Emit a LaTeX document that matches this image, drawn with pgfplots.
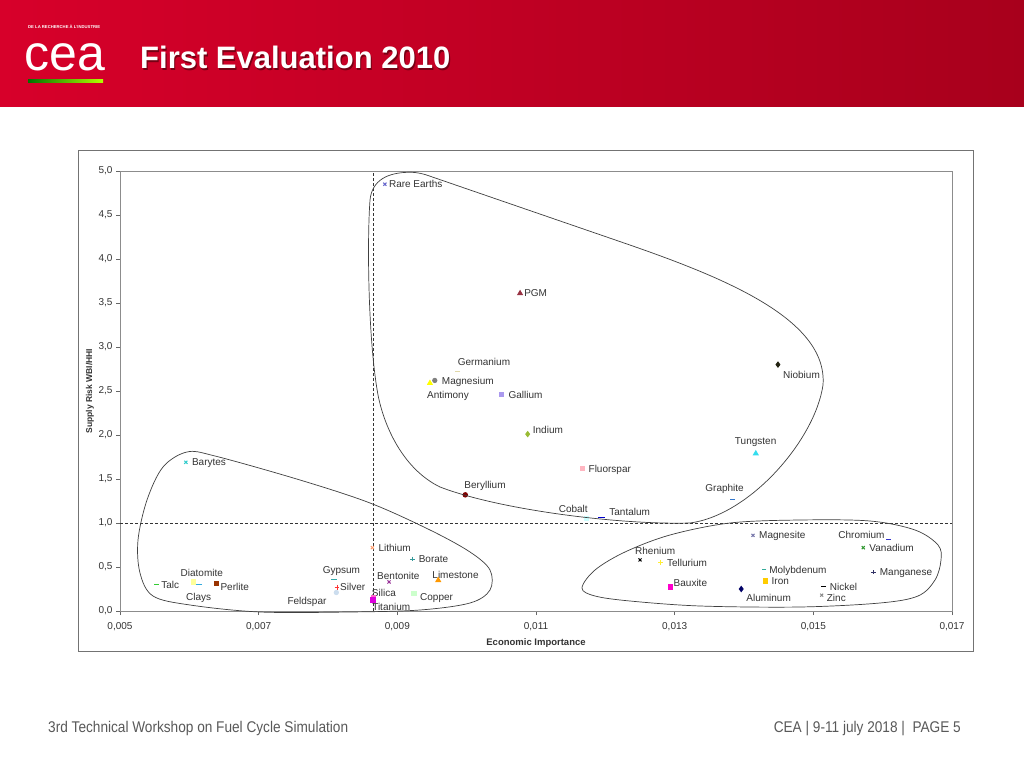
\documentclass[border=0pt]{standalone}
\usepackage{pgfplots}
\pgfplotsset{compat=1.18}
\usepackage{fontspec}
\setmainfont{Liberation Sans}
\usepackage{graphicx}

\definecolor{txt}{HTML}{333333}
\definecolor{hdrL}{HTML}{D7002A}
\definecolor{hdrR}{HTML}{A8001C}
\definecolor{cRE}{HTML}{6666CC}
\definecolor{cPGM}{HTML}{993344}
\definecolor{cGe}{HTML}{E0D8A8}
\definecolor{cMg}{HTML}{808080}
\definecolor{cSb}{HTML}{FFFF00}
\definecolor{cGa}{HTML}{AA99EE}
\definecolor{cIn}{HTML}{99BB33}
\definecolor{cFl}{HTML}{FFB6C1}
\definecolor{cBe}{HTML}{800000}
\definecolor{cCo}{HTML}{CCFFFF}
\definecolor{cTa}{HTML}{0000CC}
\definecolor{cNb}{HTML}{222211}
\definecolor{cW}{HTML}{33DDEE}
\definecolor{cGr}{HTML}{3377CC}
\definecolor{cBa}{HTML}{33CCCC}
\definecolor{cLi}{HTML}{FF9966}
\definecolor{cBo}{HTML}{339999}
\definecolor{cDi}{HTML}{FFFF99}
\definecolor{cTalc}{HTML}{33CC33}
\definecolor{cCl}{HTML}{33AADD}
\definecolor{cPe}{HTML}{993300}
\definecolor{cGy}{HTML}{33AAAA}
\definecolor{cAg}{HTML}{FF3333}
\definecolor{cFe}{HTML}{CCDDEE}
\definecolor{cBen}{HTML}{993399}
\definecolor{cSi}{HTML}{FF66CC}
\definecolor{cTi}{HTML}{DD00DD}
\definecolor{cLs}{HTML}{FF9900}
\definecolor{cCu}{HTML}{CCFFCC}
\definecolor{cRe}{HTML}{000000}
\definecolor{cTe}{HTML}{FFEE33}
\definecolor{cMgs}{HTML}{7777AA}
\definecolor{cCr}{HTML}{3333CC}
\definecolor{cV}{HTML}{339933}
\definecolor{cMo}{HTML}{33AA99}
\definecolor{cMn}{HTML}{333366}
\definecolor{cIr}{HTML}{FFCC00}
\definecolor{cBx}{HTML}{FF00CC}
\definecolor{cAl}{HTML}{000066}
\definecolor{cNi}{HTML}{000000}
\definecolor{cZn}{HTML}{888888}

\tikzset{lbl/.style={font=\fontsize{10}{12}\selectfont, text=txt, inner sep=0pt, text height=7.2pt, text depth=0pt, anchor=west}}

% x, y, mark, colour, mark size, label, dx, dy
\newcommand{\elem}[8]{%
  \addplot[only marks, mark=#3, color=#4, mark size=#5, mark options={solid, line width=1pt}] coordinates {(#1,#2)};
  \node[lbl, xshift=#7pt, yshift=#8pt] at (axis cs:#1,#2) {#6};
}

\begin{document}
\begin{tikzpicture}[x=1pt,y=1pt]
\fill[white] (0,0) rectangle (1024,768);
\shade[left color=hdrL, right color=hdrR] (0,661) rectangle (1024,768);
% logo
\node[white, font=\fontsize{4.2}{5}\selectfont\bfseries, anchor=west, inner sep=0pt] at (28,741) {DE LA RECHERCHE À L'INDUSTRIE};
\node[white, font=\fontsize{50}{50}\selectfont, anchor=base, inner sep=0pt] at (65,697) {cea};
\shade[left color=green!45!black, right color=yellow!70!green] (28,685) rectangle (103,688);
% title
\node[anchor=base west, inner sep=0pt, text=hdrR!70!black, font=\fontsize{31}{36}\selectfont\bfseries] at (141.2,697.8) {First Evaluation 2010};
\node[anchor=base west, inner sep=0pt, text=white, font=\fontsize{31}{36}\selectfont\bfseries] at (140,699) {First Evaluation 2010};
% footer
\node[anchor=base west, inner sep=0pt, text=black!65, font=\fontsize{15.5}{18}\selectfont] at (48,36) {\scalebox{0.88}[1]{3rd Technical Workshop on Fuel Cycle Simulation}};
\node[anchor=base east, inner sep=0pt, text=black!65, font=\fontsize{15.5}{18}\selectfont] at (961,36) {\scalebox{0.88}[1]{CEA | 9-11 july 2018 |\ \ PAGE 5}};
% chart frame
\draw[black!55, line width=1pt] (78,117) rectangle (973,617);

\begin{axis}[
  at={(120pt,157pt)}, anchor=south west,
  scale only axis, width=832pt, height=440pt,
  xmin=0.005, xmax=0.017, ymin=0, ymax=5,
  scaled x ticks=false, scaled y ticks=false,
  xtick={0.005,0.007,0.009,0.011,0.013,0.015,0.017},
  xticklabels={{0,005},{0,007},{0,009},{0,011},{0,013},{0,015},{0,017}},
  ytick={0,0.5,1,1.5,2,2.5,3,3.5,4,4.5,5},
  yticklabels={{0,0},{0,5},{1,0},{1,5},{2,0},{2,5},{3,0},{3,5},{4,0},{4,5},{5,0}},
  tick pos=left, tick align=outside, major tick length=4pt,
  tick style={black!60, thin},
  axis line style={black!45},
  ticklabel style={font=\fontsize{10}{12}\selectfont, text=txt},
  xticklabel style={yshift=-4pt},
  xlabel={Economic Importance},
  ylabel={Supply Risk WBI/HHI},
  xlabel style={font=\fontsize{9.5}{11}\selectfont\bfseries, text=txt, at={(axis description cs:0.5,0)}, anchor=center, yshift=-32pt},
  ylabel style={font=\fontsize{8.5}{10}\selectfont\bfseries, text=txt, at={(axis description cs:0,0.5)}, anchor=center, yshift=30pt},
  clip=false,
]
\addplot[black!80, dash pattern=on 3pt off 2pt, thin] coordinates {(0.00865,0) (0.00865,5)};
\addplot[black!80, dash pattern=on 3pt off 2pt, thin] coordinates {(0.005,1) (0.017,1)};

\elem{0.00882}{4.85}{x}{cRE}{2.2pt}{Rare Earths}{4}{0}
\elem{0.01077}{3.61}{triangle*}{cPGM}{2.6pt}{PGM}{4}{0}
\elem{0.00987}{2.72}{-}{cGe}{2.5pt}{Germanium}{0}{10}
\elem{0.00954}{2.62}{*}{cMg}{2.1pt}{Magnesium}{7}{0}
\elem{0.00947}{2.59}{triangle*}{cSb}{2.6pt}{Antimony}{-3}{-12}
\elem{0.01050}{2.46}{square*}{cGa}{2.1pt}{Gallium}{7}{0}
\elem{0.01088}{2.01}{diamond*}{cIn}{2.5pt}{Indium}{5}{4}
\elem{0.01167}{1.62}{square*}{cFl}{2.1pt}{Fluorspar}{6}{0}
\elem{0.00998}{1.32}{*}{cBe}{2.2pt}{Beryllium}{-1}{10}
\elem{0.01173}{1.05}{square*}{cCo}{2.1pt}{Cobalt}{-28}{10}
\elem{0.01194}{1.06}{-}{cTa}{3.5pt}{Tantalum}{8}{6}
\elem{0.01449}{2.80}{diamond*}{cNb}{2.5pt}{Niobium}{5}{-10}
\elem{0.01417}{1.79}{triangle*}{cW}{2.6pt}{Tungsten}{-21}{13}
\elem{0.01383}{1.27}{-}{cGr}{2.5pt}{Graphite}{-27}{11}
\elem{0.00595}{1.69}{x}{cBa}{2.2pt}{Barytes}{6}{0}
\elem{0.00864}{0.72}{x}{cLi}{2.2pt}{Lithium}{6}{0}
\elem{0.00922}{0.59}{+}{cBo}{2.4pt}{Borate}{6}{0}
\elem{0.00606}{0.33}{square*}{cDi}{2.2pt}{Diatomite}{-13}{9}
\elem{0.00552}{0.30}{-}{cTalc}{2.5pt}{Talc}{5}{0}
\elem{0.00614}{0.30}{-}{cCl}{3pt}{Clays}{-13}{-12}
\elem{0.00639}{0.31}{square*}{cPe}{2.2pt}{Perlite}{4}{-3}
\elem{0.00808}{0.36}{-}{cGy}{3pt}{Gypsum}{-11}{9}
\elem{0.00813}{0.27}{+}{cAg}{2.4pt}{Silver}{3}{0}
\elem{0.00812}{0.21}{*}{cFe}{2.1pt}{Feldspar}{-49}{-8}
\elem{0.00888}{0.33}{x}{cBen}{2.2pt}{Bentonite}{-12}{6}
\elem{0.00866}{0.15}{square*}{cSi}{2.2pt}{Silica}{-2}{5}
\elem{0.00865}{0.12}{square*}{cTi}{2.5pt}{Titanium}{-1}{-6}
\elem{0.00959}{0.35}{triangle*}{cLs}{2.6pt}{Limestone}{-6}{5}
\elem{0.00924}{0.20}{square*}{cCu}{2.4pt}{Copper}{6}{-3}
\elem{0.01250}{0.58}{x}{cRe}{2.1pt}{Rhenium}{-5}{9}
\elem{0.01280}{0.55}{+}{cTe}{2.6pt}{Tellurium}{6}{0}
\elem{0.01413}{0.86}{x}{cMgs}{2.1pt}{Magnesite}{6}{0}
\elem{0.01608}{0.81}{-}{cCr}{2.5pt}{Chromium}{-50}{5}
\elem{0.01572}{0.72}{x}{cV}{2.2pt}{Vanadium}{6}{0}
\elem{0.01429}{0.47}{-}{cMo}{2.3pt}{Molybdenum}{5}{0}
\elem{0.01587}{0.44}{+}{cMn}{2.2pt}{Manganese}{6}{0}
\elem{0.01431}{0.34}{square*}{cIr}{2.4pt}{Iron}{6}{0}
\elem{0.01294}{0.27}{square*}{cBx}{2.4pt}{Bauxite}{3}{4}
\elem{0.01396}{0.25}{diamond*}{cAl}{2.5pt}{Aluminum}{5}{-9}
\elem{0.01515}{0.28}{-}{cNi}{2.5pt}{Nickel}{6}{-1}
\elem{0.01512}{0.18}{x}{cZn}{2.1pt}{Zinc}{5}{-3}
\end{axis}

\begin{scope}[shift={(0,768)}, yscale=-1, black!75, line width=0.7pt]
\draw (430,176.2) -- (620,241.6)
  .. controls (720,276) and (828,318) .. (823,385)
  .. controls (815,440) and (750,515) .. (690,523)
  .. controls (620,525) and (500,510) .. (440,487)
  .. controls (405,470) and (385,430) .. (378,395)
  .. controls (368,340) and (367,240) .. (370,200)
  .. controls (372,180) and (388,172.3) .. (410,172.3)
  .. controls (418,172.3) and (424,174) .. (430,176.2) -- cycle;
\draw plot[smooth cycle, tension=0.55] coordinates {
 (187,452) (215,456) (300,480) (370,503) (430,530) (470,552) (490,570)
 (490,590) (470,603) (420,610) (350,612) (260,612) (190,605) (153,596)
 (140,573) (138,540) (147,500) (163,467)};
\draw plot[smooth cycle, tension=0.55] coordinates {
 (582,588) (595,570) (625,552) (670,535) (730,523) (800,520) (870,521)
 (915,530) (938,545) (941,560) (935,580) (918,596) (880,603) (800,607)
 (700,606) (630,601) (595,596)};
\end{scope}
\end{tikzpicture}
\end{document}
